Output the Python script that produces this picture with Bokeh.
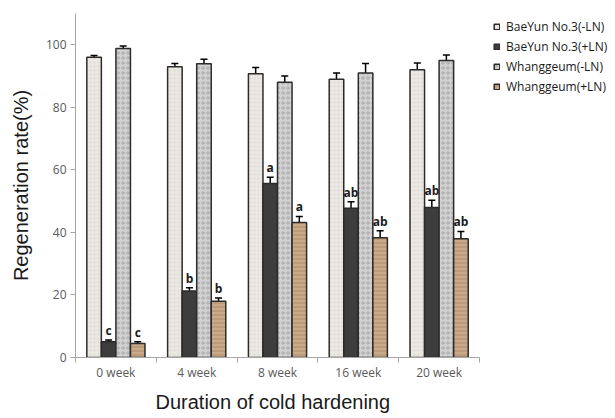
import numpy as np
from bokeh.plotting import figure
from bokeh.models import (ColumnDataSource, FixedTicker, Whisker, TeeHead,
                          Legend, LegendItem, Range1d, Title)
from bokeh.transform import dodge
from bokeh.core.properties import value
from bokeh.embed import file_html
from bokeh.resources import INLINE

weeks = ["0 week", "4 week", "8 week", "16 week", "20 week"]
series_names = ["BaeYun No.3(-LN)", "BaeYun No.3(+LN)", "Whanggeum(-LN)", "Whanggeum(+LN)"]
baeyun_minus = [96, 93, 90.7, 89, 92]
baeyun_minus_err = [0.6, 1.0, 2.0, 2.0, 2.2]
baeyun_plus = [5, 21.3, 55.6, 47.7, 48]
baeyun_plus_err = [0.6, 1.0, 2.0, 2.1, 2.3]
whang_minus = [98.8, 93.9, 88, 91, 95]
whang_minus_err = [0.8, 1.5, 2.0, 3.0, 1.7]
whang_plus = [4.5, 18, 43.2, 38.3, 38]
whang_plus_err = [0.5, 1.0, 1.9, 2.2, 2.3]
baeyun_plus_letters = ["c", "b", "a", "ab", "ab"]
whang_plus_letters = ["c", "b", "a", "ab", "ab"]
y_ticks = [0, 20, 40, 60, 80, 100]
x_title = "Duration of cold hardening"
y_title = "Regeneration rate(%)"

n = len(weeks)
xpos = np.arange(n) + 0.5
series = [baeyun_minus, baeyun_plus, whang_minus, whang_plus]
errors = [baeyun_minus_err, baeyun_plus_err, whang_minus_err, whang_plus_err]
offsets = [-0.27, -0.09, 0.09, 0.27]
bar_w = 0.18

styles = [
    dict(fill_color="#ebe8e4", hatch_pattern="dot", hatch_color="#dcd8d3", hatch_scale=4, hatch_weight=1),
    dict(fill_color="#3d3d3d"),
    dict(fill_color="#d2d2d2", hatch_pattern="ring", hatch_color="#a9a9a9", hatch_scale=5, hatch_weight=1),
    dict(fill_color="#c9aa89", hatch_pattern="horizontal_line", hatch_color="#ad8d6c", hatch_scale=4, hatch_weight=1),
]

# the frame extends to the right edge so the legend can sit beside the bars;
# the x axis itself is bounded to the categories
p = figure(width=615, height=418, output_backend="svg", toolbar_location=None,
           x_range=Range1d(0, n * 540 / 404), y_range=Range1d(0, 110),
           min_border_left=75, min_border_right=0, min_border_top=13, min_border_bottom=61)
p.outline_line_color = None
p.xgrid.grid_line_color = None
p.ygrid.grid_line_color = None

renderers = []
for k in range(4):
    src = ColumnDataSource(dict(x=xpos, top=series[k],
                                upper=np.array(series[k]) + np.array(errors[k]),
                                lower=np.array(series[k]) - np.array(errors[k])))
    r = p.vbar(x=dodge("x", offsets[k]), top="top", width=bar_w, source=src,
               line_color="#2b2b2b", line_width=1.5, **styles[k])
    renderers.append(r)
    w = Whisker(base=dodge("x", offsets[k]), upper="upper", lower="lower", source=src,
                line_color="black", line_width=1.5,
                upper_head=TeeHead(size=7, line_color="black", line_width=1.5),
                lower_head=TeeHead(size=7, line_color="black", line_width=1.5))
    p.add_layout(w)
    if k in (1, 3):
        letters = baeyun_plus_letters if k == 1 else whang_plus_letters
        tsrc = ColumnDataSource(dict(x=xpos, y=np.array(series[k]) + np.array(errors[k]), t=letters))
        p.text(x=dodge("x", offsets[k]), y="y", text="t", source=tsrc,
               text_align="center", text_baseline="bottom", y_offset=-1,
               text_font=value("Open Sans"), text_font_style="bold",
               text_font_size="12px", text_color="#1a1a1a")

# axes
p.xaxis.ticker = FixedTicker(ticks=list(xpos), minor_ticks=list(range(n + 1)))
p.xaxis.bounds = (0, n)
p.xaxis.major_label_overrides = {float(x): w for x, w in zip(xpos, weeks)}
p.xaxis.major_tick_out = 0
p.xaxis.major_tick_in = 0
p.xaxis.minor_tick_out = 5
p.xaxis.minor_tick_in = 0
p.yaxis.ticker = FixedTicker(ticks=y_ticks, minor_ticks=[])
p.yaxis.major_tick_out = 5
p.yaxis.major_tick_in = 0
for ax in (p.xaxis[0], p.yaxis[0]):
    ax.axis_line_color = "#a6a6a6"
    ax.major_tick_line_color = "#a6a6a6"
    ax.minor_tick_line_color = "#a6a6a6"
    ax.major_label_text_font = "Open Sans"
    ax.major_label_text_font_size = "12px"
    ax.major_label_text_color = "#595959"
    ax.axis_label_text_font = "Liberation Sans"
    ax.axis_label_text_font_size = "20px"
    ax.axis_label_text_font_style = "normal"
    ax.axis_label_text_color = "#1a1a1a"
p.xaxis.major_label_standoff = 1
p.yaxis.major_label_standoff = 4
p.yaxis.axis_label = y_title
p.yaxis.axis_label_standoff = 11

# x title centred under the categories (not the whole frame, which holds the legend)
p.add_layout(Title(text=x_title, align="left", offset=80, standoff=11,
                   text_font="Liberation Sans", text_font_size="20px",
                   text_font_style="normal", text_color="#1a1a1a"), "below")

items = [LegendItem(label=nm, renderers=[r]) for nm, r in zip(series_names, renderers)]
legend = Legend(items=items, location=(418, 261), orientation="vertical",
                padding=0, margin=0, spacing=0, label_height=20, glyph_height=7, glyph_width=7,
                label_standoff=6, label_text_font="Open Sans", label_text_font_size="12px",
                label_text_color="#1a1a1a", border_line_color=None, background_fill_alpha=0)
p.add_layout(legend, "center")

open("out.html", "w").write(file_html(p, INLINE))
